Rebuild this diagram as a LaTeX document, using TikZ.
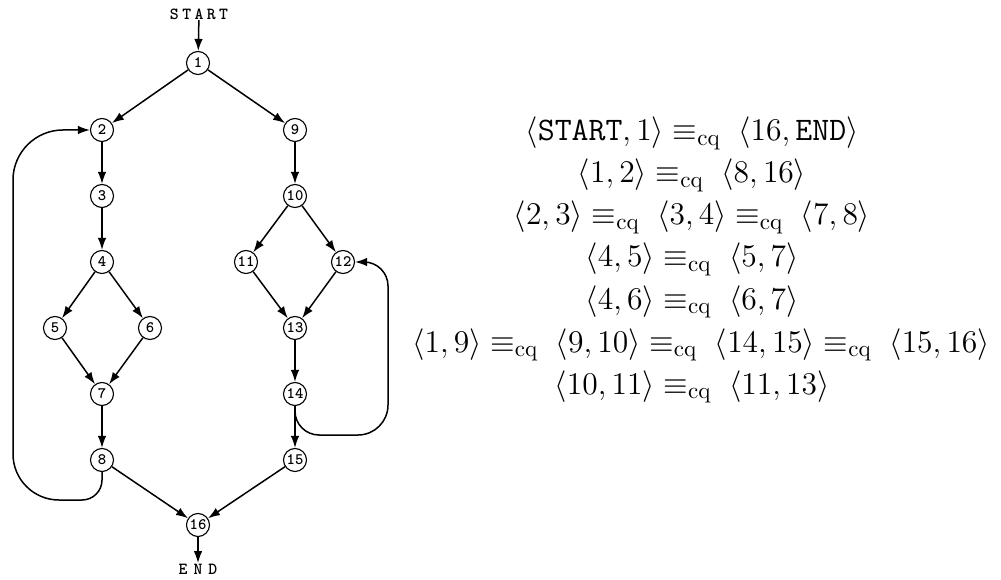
\documentclass[tikz,border=0pt]{standalone}
\usepackage{fontspec}
\usepackage{graphicx}
\usetikzlibrary{arrows.meta}
\newcommand\vlab[1]{\scalebox{1.6}{#1}}
\newcommand\tlab[1]{\scalebox{1.7}{#1}}
\begin{document}
\begin{tikzpicture}[x=1bp,y=-1bp,
  vtx/.style={circle,draw,line width=1.1bp,minimum size=23bp,inner sep=0pt,
    font=\ttfamily\bfseries\fontsize{10}{10}\selectfont},
  term/.style={inner sep=0.5bp,font=\ttfamily\bfseries\fontsize{10}{10}\selectfont},
  edge/.style={line width=1.5bp,-{Latex[length=12bp,width=8.5bp]}},
  eq/.style={anchor=base,inner sep=0pt,scale=2.2,font=\fontsize{15}{18}\selectfont}]
\useasboundingbox (0,0) rectangle (1001,580);
% vertices
\node[term] (start) at (199,14) {\tlab{S\kern2bp T\kern2bp A\kern2bp R\kern2bp T}};
\node[vtx] (n1) at (198,63) {\vlab{1}};
\node[vtx] (n2) at (102,130) {\vlab{2}};
\node[vtx] (n9) at (295,130) {\vlab{9}};
\node[vtx] (n3) at (102,196) {\vlab{3}};
\node[vtx] (n10) at (295,196) {\vlab{10}};
\node[vtx] (n4) at (102,262) {\vlab{4}};
\node[vtx] (n11) at (246,262) {\vlab{11}};
\node[vtx] (n12) at (343,262) {\vlab{12}};
\node[vtx] (n5) at (55,328) {\vlab{5}};
\node[vtx] (n6) at (150,328) {\vlab{6}};
\node[vtx] (n13) at (295,328) {\vlab{13}};
\node[vtx] (n7) at (102,394) {\vlab{7}};
\node[vtx] (n14) at (295,394) {\vlab{14}};
\node[vtx] (n8) at (102,460) {\vlab{8}};
\node[vtx] (n15) at (295,460) {\vlab{15}};
\node[vtx] (n16) at (198,525) {\vlab{16}};
\node[term] (end) at (198,569) {\tlab{E\kern3.5bp N\kern3.5bp D}};
% edges
\draw[edge] (start) -- (n1);
\draw[edge] (n1) -- (n2);
\draw[edge] (n1) -- (n9);
\draw[edge] (n2) -- (n3);
\draw[edge] (n3) -- (n4);
\draw[edge] (n4) -- (n5);
\draw[edge] (n4) -- (n6);
\draw[edge] (n5) -- (n7);
\draw[edge] (n6) -- (n7);
\draw[edge] (n7) -- (n8);
\draw[edge] (n8) -- (n16);
\draw[edge] (n9) -- (n10);
\draw[edge] (n10) -- (n11);
\draw[edge] (n10) -- (n12);
\draw[edge] (n11) -- (n13);
\draw[edge] (n12) -- (n13);
\draw[edge] (n13) -- (n14);
\draw[edge] (n14) -- (n15);
\draw[edge] (n15) -- (n16);
\draw[edge] (n16) -- (end);
% loops
\coordinate (l8a) at (102,500);
\coordinate (l8b) at (13,500);
\coordinate (l8c) at (13,130);
\draw[edge] (n8.south) [rounded corners=20bp] -- (l8a) [rounded corners=46bp] -- (l8b) [rounded corners=50bp] -- (l8c) [sharp corners] -- (n2.west);
\coordinate (l14a) at (295,435);
\coordinate (l14b) at (388,435);
\coordinate (l14c) at (388,262);
\draw[edge] (n14.south) [rounded corners=24bp] -- (l14a) [rounded corners=30bp] -- (l14b) [rounded corners=24bp] -- (l14c) [sharp corners] -- (n12.east);
% equivalences
\node[eq] (e1) at (692,141) {$\langle\texttt{START},1\rangle\equiv_{\mathrm{cq}}\;\langle16,\texttt{END}\rangle$};
\node[eq] (e2) at (692,183) {$\langle1,2\rangle\equiv_{\mathrm{cq}}\;\langle8,16\rangle$};
\node[eq] (e3) at (692,225) {$\langle2,3\rangle\equiv_{\mathrm{cq}}\;\langle3,4\rangle\equiv_{\mathrm{cq}}\;\langle7,8\rangle$};
\node[eq] (e4) at (692,267) {$\langle4,5\rangle\equiv_{\mathrm{cq}}\;\langle5,7\rangle$};
\node[eq] (e5) at (692,309) {$\langle4,6\rangle\equiv_{\mathrm{cq}}\;\langle6,7\rangle$};
\node[eq] (e6) at (701,352) {$\langle1,9\rangle\equiv_{\mathrm{cq}}\;\langle9,10\rangle\equiv_{\mathrm{cq}}\;\langle14,15\rangle\equiv_{\mathrm{cq}}\;\langle15,16\rangle$};
\node[eq] (e7) at (692,394) {$\langle10,11\rangle\equiv_{\mathrm{cq}}\;\langle11,13\rangle$};
\end{tikzpicture}
\end{document}
